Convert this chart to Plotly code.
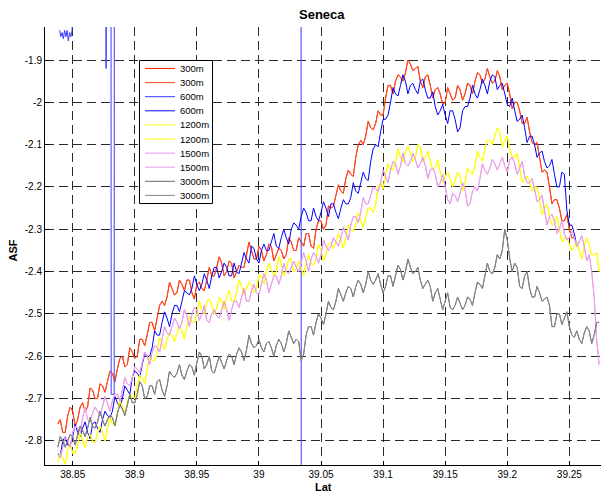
import plotly.graph_objects as go

# ---- data ----
lat_start = 38.838
lat_step = 0.004   # main samples; "mid" samples sit half a step later

asf_300m = [
    -2.76, -2.78, -2.74, -2.73, -2.75, -2.71, -2.72, -2.68, -2.70, -2.67,
    -2.66, -2.64, -2.63, -2.60, -2.62, -2.59, -2.60, -2.56, -2.55, -2.52,
    -2.51, -2.47, -2.46, -2.44, -2.45, -2.43, -2.42, -2.45, -2.43, -2.44,
    -2.42, -2.41, -2.39, -2.38, -2.40, -2.38, -2.40, -2.39, -2.36, -2.35,
    -2.37, -2.35, -2.36, -2.34, -2.36, -2.35, -2.36, -2.33, -2.35, -2.33,
    -2.31, -2.34, -2.30, -2.28, -2.29, -2.25, -2.22, -2.21, -2.18, -2.17,
    -2.13, -2.09, -2.08, -2.06, -2.05, -2.03, -1.99, -1.96, -1.95, -1.94,
    -1.93, -1.91, -1.92, -1.95, -1.94, -1.96, -1.97, -1.98, -2.00, -1.98,
    -1.99, -1.97, -1.98, -1.96, -1.95, -1.935, -1.945, -1.94, -1.95, -1.94,
    -1.96, -1.98, -2.00, -2.02, -2.05, -2.07, -2.10, -2.13, -2.16, -2.20,
    -2.23, -2.25, -2.28, -2.30, -2.32,
]
asf_300m_mid = [
    -2.75, -2.78, -2.72, -2.765, -2.72, -2.73, -2.675, -2.70, -2.665, -2.685,
    -2.635, -2.66, -2.605, -2.625, -2.58, -2.605, -2.56, -2.575, -2.52, -2.54,
    -2.48, -2.48, -2.425, -2.455, -2.42, -2.445, -2.42, -2.465, -2.425, -2.445,
    -2.39, -2.41, -2.365, -2.41, -2.375, -2.415, -2.385, -2.39, -2.33, -2.37,
    -2.34, -2.375, -2.335, -2.375, -2.345, -2.37, -2.32, -2.35, -2.32, -2.34,
    -2.31, -2.345, -2.28, -2.30, -2.245, -2.245, -2.195, -2.215, -2.16, -2.175,
    -2.10, -2.10, -2.045, -2.065, -2.02, -2.03, -1.96, -1.98, -1.935, -1.95,
    -1.90, -1.925, -1.915, -1.965, -1.935, -1.99, -1.965, -2.005, -1.965, -1.995,
    -1.96, -1.995, -1.955, -1.98, -1.93, -1.955, -1.92, -1.955, -1.925, -1.97,
    -1.955, -2.015, -2.00, -2.05, -2.035, -2.095, -2.095, -2.165, -2.165, -2.24,
    -2.23, -2.28, -2.265, -2.32,
]

asf_600m = [
    -2.83, -2.80, -2.81, -2.79, -2.78, -2.77, -2.78, -2.76, -2.77, -2.75,
    -2.74, -2.73, -2.71, -2.70, -2.68, -2.65, -2.64, -2.62, -2.60, -2.58,
    -2.55, -2.52, -2.51, -2.50, -2.48, -2.47, -2.45, -2.44, -2.43, -2.43,
    -2.42, -2.41, -2.39, -2.40, -2.39, -2.41, -2.40, -2.38, -2.37, -2.34,
    -2.37, -2.35, -2.35, -2.33, -2.34, -2.32, -2.32, -2.30, -2.29, -2.27,
    -2.26, -2.28, -2.27, -2.26, -2.25, -2.24, -2.26, -2.25, -2.24, -2.225,
    -2.21, -2.19, -2.18, -2.14, -2.10, -2.07, -2.04, -2.00, -1.98, -1.96,
    -1.95, -1.96, -1.97, -1.95, -1.97, -1.99, -2.01, -2.02, -2.03, -2.02,
    -2.04, -2.06, -2.01, -1.99, -1.98, -1.97, -1.96, -1.95, -1.94, -1.96,
    -1.98, -2.01, -2.02, -2.04, -2.06, -2.08, -2.10, -2.12, -2.14, -2.15,
    -2.17, -2.20, -2.17, -2.29, -2.31, -2.33,
]
asf_600m_mid = [
    -2.835, -2.79, -2.81, -2.76, -2.79, -2.755, -2.795, -2.755, -2.78, -2.73,
    -2.745, -2.695, -2.72, -2.67, -2.69, -2.635, -2.65, -2.595, -2.60, -2.54,
    -2.55, -2.495, -2.53, -2.48, -2.495, -2.445, -2.455, -2.41, -2.445, -2.405,
    -2.44, -2.39, -2.415, -2.38, -2.41, -2.38, -2.405, -2.355, -2.38, -2.345,
    -2.38, -2.335, -2.35, -2.31, -2.345, -2.30, -2.335, -2.285, -2.30, -2.25,
    -2.28, -2.25, -2.28, -2.235, -2.27, -2.24, -2.275, -2.23, -2.24, -2.19,
    -2.215, -2.165, -2.185, -2.11, -2.105, -2.04, -2.03, -1.965, -1.985, -1.935,
    -1.98, -1.955, -1.98, -1.945, -1.99, -1.975, -2.03, -2.005, -2.05, -2.02,
    -2.07, -2.02, -2.01, -1.96, -1.99, -1.945, -1.98, -1.935, -1.97, -1.955,
    -2.005, -1.99, -2.045, -2.03, -2.095, -2.08, -2.13, -2.115, -2.155, -2.135,
    -2.20, -2.165, -2.255, -2.29, -2.34,
]

# out-of-range excursions of the first 600m run
glitch_lat = [38.8395, 38.8405, 38.8415, 38.8425, 38.8435, 38.8445, 38.8455,
              38.8465, 38.8475, 38.8485, 38.8495, 38.8500, None,
              38.8768, 38.8769, 38.8770, None,
              38.8808, 38.8810, 38.8834, 38.8836, None,
              39.0339, 39.0341]
glitch_asf = [-1.83, -1.845, -1.835, -1.85, -1.83, -1.845, -1.83,
              -1.855, -1.835, -1.845, -1.83, -1.60, None,
              -1.60, -1.92, -1.60, None,
              -1.00, -2.69, -2.69, -1.00, None,
              -1.00, -3.50]

asf_1200m = [
    -2.85, -2.84, -2.82, -2.83, -2.81, -2.80, -2.79, -2.80, -2.78, -2.78,
    -2.77, -2.76, -2.74, -2.72, -2.71, -2.695, -2.67, -2.65, -2.63, -2.61,
    -2.59, -2.57, -2.56, -2.55, -2.545, -2.54, -2.53, -2.52, -2.50, -2.49,
    -2.47, -2.48, -2.485, -2.47, -2.46, -2.47, -2.45, -2.435, -2.44, -2.43,
    -2.44, -2.41, -2.40, -2.395, -2.40, -2.38, -2.395, -2.37, -2.395, -2.39,
    -2.38, -2.38, -2.37, -2.35, -2.36, -2.33, -2.33, -2.325, -2.32, -2.30,
    -2.29, -2.28, -2.27, -2.25, -2.24, -2.19, -2.17, -2.16, -2.14, -2.13,
    -2.115, -2.12, -2.13, -2.105, -2.13, -2.14, -2.155, -2.165, -2.175, -2.18,
    -2.185, -2.175, -2.19, -2.165, -2.15, -2.13, -2.11, -2.09, -2.08, -2.07,
    -2.09, -2.11, -2.13, -2.155, -2.18, -2.19, -2.20, -2.23, -2.25, -2.27,
    -2.285, -2.30, -2.32, -2.335, -2.34, -2.35, -2.34, -2.34, -2.36, -2.40,
]
asf_1200m_mid = [
    -2.83, -2.855, -2.805, -2.83, -2.78, -2.815, -2.785, -2.805, -2.765, -2.80,
    -2.745, -2.76, -2.705, -2.735, -2.69, -2.70, -2.645, -2.665, -2.60, -2.61,
    -2.555, -2.585, -2.545, -2.565, -2.53, -2.56, -2.505, -2.52, -2.47, -2.50,
    -2.465, -2.50, -2.46, -2.49, -2.445, -2.47, -2.42, -2.455, -2.425, -2.45,
    -2.41, -2.43, -2.38, -2.41, -2.365, -2.41, -2.37, -2.40, -2.375, -2.41,
    -2.36, -2.385, -2.335, -2.375, -2.335, -2.345, -2.31, -2.345, -2.29, -2.305,
    -2.26, -2.295, -2.25, -2.26, -2.20, -2.205, -2.145, -2.16, -2.11, -2.14,
    -2.105, -2.14, -2.10, -2.14, -2.115, -2.16, -2.135, -2.19, -2.165, -2.20,
    -2.165, -2.21, -2.155, -2.17, -2.115, -2.14, -2.09, -2.10, -2.06, -2.105,
    -2.08, -2.13, -2.12, -2.19, -2.175, -2.21, -2.20, -2.265, -2.24, -2.29,
    -2.27, -2.33, -2.32, -2.35, -2.33, -2.37, -2.32, -2.36, -2.355,
]

asf_1500m = [
    -2.835, -2.815, -2.80, -2.78, -2.77, -2.745, -2.75, -2.735, -2.73, -2.72,
    -2.71, -2.705, -2.69, -2.68, -2.665, -2.65, -2.63, -2.615, -2.60, -2.59,
    -2.58, -2.56, -2.545, -2.53, -2.52, -2.52, -2.505, -2.50, -2.49, -2.50,
    -2.515, -2.50, -2.505, -2.49, -2.49, -2.49, -2.47, -2.46, -2.47, -2.445,
    -2.45, -2.43, -2.42, -2.43, -2.41, -2.41, -2.40, -2.39, -2.39, -2.38,
    -2.375, -2.37, -2.365, -2.36, -2.34, -2.34, -2.33, -2.32, -2.31, -2.29,
    -2.27, -2.26, -2.24, -2.22, -2.205, -2.19, -2.175, -2.16, -2.145, -2.15,
    -2.145, -2.14, -2.135, -2.145, -2.15, -2.16, -2.17, -2.19, -2.20, -2.24,
    -2.22, -2.215, -2.205, -2.24, -2.20, -2.18, -2.16, -2.155, -2.145, -2.145,
    -2.15, -2.135, -2.145, -2.155, -2.175, -2.19, -2.205, -2.23, -2.255, -2.27,
    -2.28, -2.30, -2.31, -2.32, -2.32, -2.33, -2.34, -2.36, -2.46, -2.62,
]
asf_1500m_mid = [
    -2.84, -2.79, -2.815, -2.765, -2.78, -2.72, -2.755, -2.72, -2.74, -2.695,
    -2.73, -2.69, -2.705, -2.65, -2.67, -2.625, -2.64, -2.59, -2.62, -2.575,
    -2.59, -2.53, -2.55, -2.51, -2.535, -2.49, -2.53, -2.485, -2.515, -2.48,
    -2.52, -2.49, -2.51, -2.47, -2.515, -2.47, -2.485, -2.44, -2.47, -2.43,
    -2.455, -2.405, -2.45, -2.41, -2.43, -2.38, -2.405, -2.375, -2.40, -2.355,
    -2.40, -2.355, -2.38, -2.325, -2.35, -2.32, -2.34, -2.295, -2.325, -2.27,
    -2.285, -2.225, -2.24, -2.20, -2.21, -2.16, -2.19, -2.14, -2.17, -2.12,
    -2.15, -2.12, -2.155, -2.13, -2.18, -2.155, -2.20, -2.17, -2.23, -2.215,
    -2.235, -2.19, -2.245, -2.21, -2.21, -2.145, -2.17, -2.135, -2.16, -2.13,
    -2.165, -2.13, -2.17, -2.14, -2.19, -2.18, -2.235, -2.22, -2.29, -2.265,
    -2.31, -2.28, -2.325, -2.305, -2.34, -2.315, -2.375, -2.40, -2.56,
]

asf_3000m = [
    -2.815, -2.80, -2.80, -2.79, -2.785, -2.775, -2.77, -2.765, -2.755, -2.75,
    -2.75, -2.745, -2.735, -2.725, -2.715, -2.71, -2.69, -2.67, -2.695, -2.67,
    -2.66, -2.68, -2.67, -2.645, -2.64, -2.645, -2.635, -2.625, -2.615, -2.60,
    -2.62, -2.635, -2.62, -2.615, -2.61, -2.60, -2.595, -2.59, -2.585, -2.57,
    -2.575, -2.58, -2.57, -2.58, -2.575, -2.57, -2.57, -2.555, -2.56, -2.61,
    -2.55, -2.53, -2.52, -2.51, -2.50, -2.485, -2.47, -2.455, -2.45, -2.44,
    -2.435, -2.43, -2.43, -2.42, -2.42, -2.43, -2.435, -2.41, -2.41, -2.395,
    -2.40, -2.39, -2.40, -2.42, -2.43, -2.435, -2.45, -2.465, -2.47, -2.485,
    -2.48, -2.475, -2.48, -2.465, -2.45, -2.43, -2.41, -2.40, -2.39, -2.37,
    -2.30, -2.37, -2.38, -2.435, -2.41, -2.44, -2.46, -2.45, -2.465, -2.48,
    -2.53, -2.50, -2.51, -2.53, -2.555, -2.56, -2.545, -2.54, -2.55, -2.52,
]
asf_3000m_mid = [
    -2.79, -2.815, -2.785, -2.81, -2.765, -2.79, -2.745, -2.77, -2.73, -2.765,
    -2.74, -2.765, -2.715, -2.74, -2.69, -2.71, -2.66, -2.70, -2.67, -2.69,
    -2.655, -2.695, -2.635, -2.65, -2.62, -2.655, -2.62, -2.645, -2.59, -2.63,
    -2.60, -2.64, -2.60, -2.63, -2.595, -2.62, -2.58, -2.61, -2.55, -2.58,
    -2.56, -2.59, -2.565, -2.60, -2.56, -2.59, -2.54, -2.57, -2.565, -2.595,
    -2.53, -2.55, -2.50, -2.525, -2.47, -2.49, -2.44, -2.47, -2.435, -2.46,
    -2.42, -2.45, -2.40, -2.43, -2.405, -2.45, -2.41, -2.435, -2.385, -2.42,
    -2.37, -2.405, -2.39, -2.44, -2.42, -2.47, -2.44, -2.49, -2.45, -2.49,
    -2.46, -2.49, -2.46, -2.48, -2.425, -2.44, -2.38, -2.405, -2.36, -2.35,
    -2.325, -2.40, -2.39, -2.44, -2.40, -2.46, -2.435, -2.47, -2.46, -2.53,
    -2.50, -2.525, -2.495, -2.55, -2.54, -2.57, -2.53, -2.57, -2.52,
]

x_ticks = [38.85, 38.9, 38.95, 39, 39.05, 39.1, 39.15, 39.2, 39.25]
x_tick_text = ["38.85", "38.9", "38.95", "39", "39.05", "39.1", "39.15", "39.2", "39.25"]
y_ticks = [-1.9, -2.0, -2.1, -2.2, -2.3, -2.4, -2.5, -2.6, -2.7, -2.8]
y_tick_text = ["-1.9", "-2", "-2.1", "-2.2", "-2.3", "-2.4", "-2.5", "-2.6", "-2.7", "-2.8"]
legend_names = ["300m", "300m", "600m", "600m", "1200m", "1200m",
                "1500m", "1500m", "3000m", "3000m"]
line_colors = ["#ff2200", "#ff4a20", "#3a3aff", "#0000ff", "#ffff00",
               "#ffff00", "#ee90ee", "#eaa0ea", "#6a6a6a", "#858585"]


def interleave(main, mid):
    xs, ys = [], []
    for i, v in enumerate(main):
        xs.append(round(lat_start + i * lat_step, 4))
        ys.append(v)
        if i < len(mid):
            xs.append(round(lat_start + (i + 0.5) * lat_step, 4))
            ys.append(mid[i])
    return xs, ys


s300 = interleave(asf_300m, asf_300m_mid)
s600 = interleave(asf_600m, asf_600m_mid)
s1200 = interleave(asf_1200m, asf_1200m_mid)
s1500 = interleave(asf_1500m, asf_1500m_mid)
s3000 = interleave(asf_3000m, asf_3000m_mid)
series = [s300, s300, (glitch_lat, glitch_asf), s600, s1200, s1200,
          s1500, s1500, s3000, s3000]

fig = go.Figure()
for name, (xs, ys), col in zip(legend_names, series, line_colors):
    fig.add_trace(go.Scatter(x=xs, y=ys, mode="lines", name=name,
                             line=dict(color=col, width=1),
                             connectgaps=False, showlegend=False))

font_family = "Liberation Sans, Arial, sans-serif"

# plot-area geometry in pixels (used for paper-coordinate placement)
L, T, W, H = 45, 27, 556, 438


def px(xp):
    return (xp - L) / W


def py(yp):
    return (T + H - yp) / H


# hand-built legend (MATLAB-like tight row spacing)
shapes = [dict(type="rect", xref="paper", yref="paper", layer="above",
               x0=px(139.5), x1=px(212.5), y0=py(203.5), y1=py(60.5),
               line=dict(color="black", width=1), fillcolor="white")]
annotations = []
for k, (name, col) in enumerate(zip(legend_names, line_colors)):
    yc = 68.5 + k * 14.1
    shapes.append(dict(type="line", xref="paper", yref="paper", layer="above",
                       x0=px(145), x1=px(175), y0=py(yc), y1=py(yc),
                       line=dict(color=col, width=1)))
    annotations.append(dict(text=name, xref="paper", yref="paper", x=px(178),
                            y=py(yc), xanchor="left", yanchor="middle",
                            showarrow=False,
                            font=dict(size=9.5, family=font_family, color="black")))

annotations += [
    dict(text="<b>Seneca</b>", xref="paper", yref="paper", x=px(322), y=py(15),
         xanchor="center", yanchor="middle", showarrow=False,
         font=dict(size=13, family=font_family, color="black")),
    dict(text="<b>Lat</b>", xref="paper", yref="paper", x=px(323), y=py(487),
         xanchor="center", yanchor="middle", showarrow=False,
         font=dict(size=11, family=font_family, color="black")),
    dict(text="<b>ASF</b>", xref="paper", yref="paper", x=px(12.5), y=py(251),
         xanchor="center", yanchor="middle", showarrow=False, textangle=-90,
         font=dict(size=11, family=font_family, color="black")),
]

fig.update_layout(
    width=601, height=495,
    margin=dict(l=L, r=0, t=T, b=495 - T - H, autoexpand=False),
    paper_bgcolor="white", plot_bgcolor="white",
    font=dict(family=font_family, size=10, color="black"),
    showlegend=False,
    shapes=shapes,
    annotations=annotations,
)
grid = dict(showgrid=True, gridcolor="#2a2a2a", gridwidth=1, griddash="9px,5px",
            showline=True, linecolor="black", linewidth=1, mirror=False,
            ticks="inside", ticklen=4, tickcolor="black", zeroline=False,
            automargin=False,
            tickfont=dict(size=10, family=font_family, color="black"))
fig.update_xaxes(range=[38.8277, 39.2755], tickmode="array", tickvals=x_ticks,
                 ticktext=x_tick_text, **grid)
fig.update_yaxes(range=[-2.857, -1.822], tickmode="array", tickvals=y_ticks,
                 ticktext=y_tick_text, **grid)

fig.write_html("out.html",
               config={"displayModeBar": False},
               post_script="document.body.style.margin='0px';"
                           "document.body.style.padding='0px';"
                           "document.body.style.overflow='hidden';")
